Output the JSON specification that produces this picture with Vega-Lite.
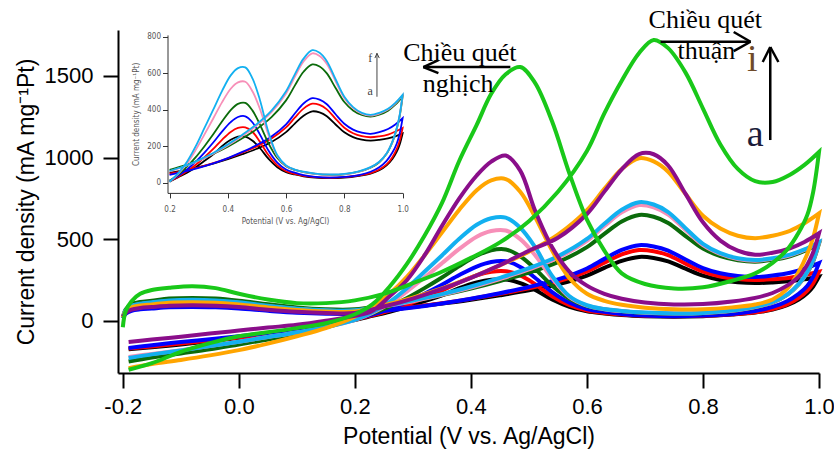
{
"$schema": "https://vega.github.io/schema/vega-lite/v6.json",
"width": 701, "height": 343,
"autosize": {"type": "none"},
"padding": {"left": 118, "top": 30, "right": 15, "bottom": 88},
"background": "white",
"config": {"view": {"stroke": null}, "axis": {"grid": false}},
"datasets": {
"cv": [
{"k":1,"V":-0.2,"a":20,"b":20,"c":15,"d":20,"e":20,"f":20,"g":20,"h":25,"i":-40},
{"k":2,"V":-0.195,"a":55,"b":50,"c":43,"d":70,"e":62,"f":64,"g":57,"h":48,"i":60},
{"k":3,"V":-0.185,"a":79,"b":72,"c":61,"d":101,"e":89,"f":92,"g":82,"h":68,"i":120},
{"k":4,"V":-0.17,"a":90,"b":82,"c":70,"d":115,"e":102,"f":105,"g":93,"h":78,"i":165},
{"k":5,"V":-0.15,"a":97,"b":88,"c":75,"d":123,"e":109,"f":113,"g":100,"h":84,"i":188},
{"k":6,"V":-0.12,"a":107,"b":97,"c":82,"d":136,"e":120,"f":124,"g":111,"h":92,"i":202},
{"k":7,"V":-0.08,"a":110,"b":100,"c":85,"d":140,"e":124,"f":128,"g":114,"h":95,"i":212},
{"k":8,"V":-0.04,"a":107,"b":97,"c":82,"d":136,"e":120,"f":124,"g":111,"h":92,"i":200},
{"k":9,"V":0,"a":97,"b":88,"c":75,"d":123,"e":109,"f":113,"g":100,"h":84,"i":165},
{"k":10,"V":0.05,"a":79,"b":72,"c":61,"d":101,"e":89,"f":92,"g":82,"h":68,"i":130},
{"k":11,"V":0.1,"a":64,"b":58,"c":49,"d":81,"e":72,"f":74,"g":66,"h":55,"i":108},
{"k":12,"V":0.15,"a":55,"b":50,"c":43,"d":70,"e":62,"f":64,"g":57,"h":48,"i":108},
{"k":13,"V":0.2,"a":55,"b":50,"c":43,"d":70,"e":62,"f":64,"g":57,"h":48,"i":125},
{"k":14,"V":0.25,"a":68,"b":65,"c":60,"d":93,"e":88,"f":90,"g":95,"h":87,"i":165},
{"k":15,"V":0.3,"a":85,"b":84,"c":81,"d":122,"e":120,"f":124,"g":142,"h":136,"i":230},
{"k":16,"V":0.35,"a":105,"b":107,"c":106,"d":157,"e":159,"f":163,"g":198,"h":195,"i":300},
{"k":17,"V":0.4,"a":129,"b":134,"c":135,"d":197,"e":204,"f":210,"g":264,"h":263,"i":385},
{"k":18,"V":0.45,"a":156,"b":165,"c":169,"d":243,"e":256,"f":263,"g":339,"h":341,"i":480},
{"k":19,"V":0.5,"a":186,"b":199,"c":207,"d":295,"e":314,"f":322,"g":423,"h":429,"i":610},
{"k":20,"V":0.55,"a":223,"b":242,"c":253,"d":359,"e":386,"f":395,"g":527,"h":508,"i":790},
{"k":21,"V":0.6,"a":277,"b":303,"c":320,"d":451,"e":489,"f":501,"g":677,"h":654,"i":1040},
{"k":22,"V":0.63,"a":324,"b":356,"c":379,"d":532,"e":580,"f":594,"g":808,"h":791,"i":1270},
{"k":23,"V":0.66,"a":367,"b":406,"c":434,"d":608,"e":664,"f":680,"g":930,"h":928,"i":1470},
{"k":24,"V":0.69,"a":391,"b":433,"c":463,"d":648,"e":709,"f":726,"g":996,"h":1021,"i":1640},
{"k":25,"V":0.715,"a":385,"b":426,"c":455,"d":637,"e":695,"f":712,"g":976,"h":1020,"i":1720},
{"k":26,"V":0.74,"a":364,"b":402,"c":430,"d":599,"e":651,"f":666,"g":913,"h":951,"i":1670},
{"k":27,"V":0.77,"a":319,"b":350,"c":375,"d":519,"e":556,"f":567,"g":776,"h":777,"i":1520},
{"k":28,"V":0.8,"a":276,"b":301,"c":323,"d":442,"e":463,"f":471,"g":643,"h":603,"i":1300},
{"k":29,"V":0.83,"a":250,"b":271,"c":291,"d":396,"e":409,"f":414,"g":565,"h":491,"i":1080},
{"k":30,"V":0.86,"a":236,"b":255,"c":274,"d":371,"e":378,"f":383,"g":521,"h":429,"i":930},
{"k":31,"V":0.89,"a":231,"b":249,"c":268,"d":362,"e":368,"f":372,"g":506,"h":404,"i":855},
{"k":32,"V":0.92,"a":235,"b":254,"c":277,"d":373,"e":379,"f":383,"g":521,"h":417,"i":850},
{"k":33,"V":0.95,"a":243,"b":264,"c":294,"d":395,"e":401,"f":405,"g":551,"h":444,"i":895},
{"k":34,"V":0.975,"a":254,"b":280,"c":319,"d":428,"e":434,"f":437,"g":597,"h":483,"i":955},
{"k":35,"V":1.0,"a":270,"b":300,"c":353,"d":472,"e":478,"f":481,"g":657,"h":536,"i":1034},
{"k":36,"V":1.0,"a":270,"b":300,"c":353,"d":472,"e":478,"f":481,"g":657,"h":536,"i":1034},
{"k":37,"V":0.99,"a":210,"b":230,"c":270,"d":365,"e":370,"f":372,"g":510,"h":420,"i":790},
{"k":38,"V":0.98,"a":170,"b":185,"c":215,"d":295,"e":298,"f":300,"g":410,"h":345,"i":650},
{"k":39,"V":0.965,"a":130,"b":140,"c":165,"d":222,"e":224,"f":225,"g":300,"h":270,"i":540},
{"k":40,"V":0.945,"a":95,"b":100,"c":120,"d":158,"e":160,"f":160,"g":195,"h":215,"i":435},
{"k":41,"V":0.92,"a":68,"b":72,"c":85,"d":112,"e":114,"f":115,"g":130,"h":170,"i":355},
{"k":42,"V":0.89,"a":50,"b":52,"c":60,"d":82,"e":84,"f":85,"g":100,"h":140,"i":290},
{"k":43,"V":0.85,"a":38,"b":40,"c":42,"d":60,"e":61,"f":62,"g":82,"h":118,"i":245},
{"k":44,"V":0.8,"a":28,"b":30,"c":32,"d":46,"e":47,"f":48,"g":70,"h":102,"i":205},
{"k":45,"V":0.75,"a":25,"b":27,"c":28,"d":43,"e":44,"f":45,"g":70,"h":100,"i":198},
{"k":46,"V":0.7,"a":28,"b":30,"c":32,"d":48,"e":49,"f":50,"g":80,"h":112,"i":225},
{"k":47,"V":0.66,"a":35,"b":38,"c":42,"d":58,"e":59,"f":60,"g":98,"h":135,"i":290},
{"k":48,"V":0.63,"a":45,"b":48,"c":55,"d":70,"e":71,"f":72,"g":122,"h":165,"i":430},
{"k":49,"V":0.6,"a":58,"b":63,"c":72,"d":90,"e":93,"f":95,"g":165,"h":215,"i":620},
{"k":50,"V":0.57,"a":85,"b":95,"c":110,"d":135,"e":145,"f":150,"g":260,"h":300,"i":900},
{"k":51,"V":0.54,"a":130,"b":150,"c":175,"d":215,"e":260,"f":275,"g":430,"h":450,"i":1220},
{"k":52,"V":0.51,"a":190,"b":225,"c":265,"d":320,"e":405,"f":455,"g":640,"h":680,"i":1460},
{"k":53,"V":0.485,"a":230,"b":278,"c":330,"d":395,"e":500,"f":570,"g":790,"h":920,"i":1554},
{"k":54,"V":0.46,"a":253,"b":303,"c":364,"d":437,"e":553,"f":632,"g":868,"h":1012,"i":1510},
{"k":55,"V":0.435,"a":252,"b":300,"c":360,"d":432,"e":550,"f":628,"g":860,"h":975,"i":1390},
{"k":56,"V":0.41,"a":235,"b":278,"c":332,"d":398,"e":515,"f":588,"g":800,"h":890,"i":1200},
{"k":57,"V":0.38,"a":200,"b":235,"c":280,"d":335,"e":440,"f":502,"g":680,"h":750,"i":980},
{"k":58,"V":0.35,"a":155,"b":185,"c":220,"d":265,"e":352,"f":400,"g":540,"h":580,"i":720},
{"k":59,"V":0.32,"a":120,"b":140,"c":165,"d":200,"e":265,"f":300,"g":400,"h":400,"i":520},
{"k":60,"V":0.29,"a":85,"b":98,"c":115,"d":140,"e":180,"f":200,"g":270,"h":250,"i":350},
{"k":61,"V":0.26,"a":55,"b":62,"c":72,"d":88,"e":105,"f":115,"g":165,"h":150,"i":210},
{"k":62,"V":0.23,"a":30,"b":33,"c":38,"d":45,"e":48,"f":52,"g":85,"h":60,"i":100},
{"k":63,"V":0.2,"a":5,"b":8,"c":10,"d":10,"e":5,"f":5,"g":25,"h":30,"i":40},
{"k":64,"V":0.15,"a":-30,"b":-28,"c":-25,"d":-40,"e":-40,"f":-40,"g":-45,"h":0,"i":-15},
{"k":65,"V":0.1,"a":-60,"b":-58,"c":-52,"d":-80,"e":-72,"f":-72,"g":-95,"h":-25,"i":-45},
{"k":66,"V":0.05,"a":-85,"b":-83,"c":-75,"d":-115,"e":-100,"f":-100,"g":-140,"h":-42,"i":-70},
{"k":67,"V":0,"a":-105,"b":-103,"c":-95,"d":-145,"e":-128,"f":-128,"g":-180,"h":-60,"i":-95},
{"k":68,"V":-0.05,"a":-125,"b":-122,"c":-113,"d":-175,"e":-155,"f":-155,"g":-212,"h":-78,"i":-137},
{"k":69,"V":-0.1,"a":-145,"b":-140,"c":-130,"d":-200,"e":-180,"f":-182,"g":-240,"h":-98,"i":-190},
{"k":70,"V":-0.15,"a":-162,"b":-157,"c":-150,"d":-225,"e":-203,"f":-206,"g":-265,"h":-115,"i":-260},
{"k":71,"V":-0.19,"a":-175,"b":-170,"c":-167,"d":-250,"e":-222,"f":-228,"g":-290,"h":-130,"i":-300}
],
"seg": [
{"V":0.468,"J":1554,"V2":0.318,"J2":1554},
{"V":0.318,"J":1554,"V2":0.344,"J2":1597},
{"V":0.318,"J":1554,"V2":0.344,"J2":1517},
{"V":0.727,"J":1709,"V2":0.882,"J2":1709},
{"V":0.882,"J":1709,"V2":0.853,"J2":1769},
{"V":0.882,"J":1709,"V2":0.853,"J2":1652},
{"V":0.916,"J":1107,"V2":0.916,"J2":1677},
{"V":0.916,"J":1677,"V2":0.903,"J2":1585},
{"V":0.916,"J":1677,"V2":0.930,"J2":1585}
],
"lab": [
{"t":"Chiều quét","V":0.381,"J":1592},
{"t":"nghịch","V":0.378,"J":1400},
{"t":"Chiều quét","V":0.804,"J":1791},
{"t":"thuận","V":0.806,"J":1601}
],
"big": [
{"t":"i","V":0.885,"J":1532},
{"t":"a","V":0.890,"J":1070}
],
"iseg": [
{"V":0.912,"J":471,"V2":0.912,"J2":709},
{"V":0.912,"J":709,"V2":0.905,"J2":683},
{"V":0.912,"J":709,"V2":0.920,"J2":683}
],
"ilab": [
{"t":"f","V":0.889,"J":663},
{"t":"a","V":0.889,"J":481}
]
},
"layer": [
{
"layer": [
{
"data": {"name": "cv"},
"transform": [{"fold": ["a","b","c","d","e","f","g","h","i"], "as": ["curve","J"]}],
"mark": {"type": "line", "strokeWidth": 4, "interpolate": "catmull-rom", "clip": false},
"encoding": {
"x": {"field": "V", "type": "quantitative", "scale": {"domain": [-0.2083, 1.0], "nice": false, "zero": false},
"axis": {"orient": "bottom", "title": "Potential (V vs. Ag/AgCl)", "values": [-0.2,0,0.2,0.4,0.6,0.8,1.0], "format": ".1f",
"labelExpr": "replace(datum.label, '\u2212', '-')",
"tickSize": 15, "tickWidth": 2, "domainWidth": 2, "domainColor": "black", "tickColor": "black",
"labelFontSize": 22, "labelFont": "Liberation Sans", "labelColor": "black", "labelPadding": 8, "labelFlush": false, "labelOverlap": false,
"titleFontSize": 23, "titleFont": "Liberation Sans", "titleFontWeight": "normal", "titleColor": "black", "titlePadding": 8}},
"y": {"field": "J", "type": "quantitative", "scale": {"domain": [-320, 1781], "nice": false, "zero": false},
"axis": {"orient": "left", "title": "Current density (mA mg⁻¹Pt)", "values": [0,500,1000,1500], "format": "d",
"tickSize": 15, "tickWidth": 2, "domainWidth": 2, "domainColor": "black", "tickColor": "black",
"labelFontSize": 22, "labelFont": "Liberation Sans", "labelColor": "black", "labelPadding": 10, "labelFlush": false, "labelOverlap": false,
"titleFontSize": 23, "titleFont": "Liberation Sans", "titleFontWeight": "normal", "titleColor": "black", "titlePadding": 6}},
"color": {"field": "curve", "type": "nominal", "legend": null,
"scale": {"domain": ["a","b","c","d","e","f","g","h","i"], "range": ["#000000","#ff0000","#0000ff","#0b6b0b","#f78fb8","#12b0f0","#ffa500","#8a0e8a","#19c819"]}},
"order": {"field": "k", "type": "quantitative"}
}
},
{
"data": {"name": "seg"},
"mark": {"type": "rule", "strokeWidth": 2.5, "color": "black", "clip": false},
"encoding": {
"x": {"field": "V", "type": "quantitative", "scale": {"domain": [-0.2083, 1.0], "nice": false, "zero": false}},
"y": {"field": "J", "type": "quantitative", "scale": {"domain": [-320, 1781], "nice": false, "zero": false}},
"x2": {"field": "V2"},
"y2": {"field": "J2"}
}
},
{
"data": {"name": "lab"},
"mark": {"type": "text", "font": "Liberation Serif", "fontSize": 26, "align": "center", "baseline": "alphabetic", "color": "black", "clip": false},
"encoding": {
"x": {"field": "V", "type": "quantitative", "scale": {"domain": [-0.2083, 1.0], "nice": false, "zero": false}},
"y": {"field": "J", "type": "quantitative", "scale": {"domain": [-320, 1781], "nice": false, "zero": false}},
"text": {"field": "t"}
}
},
{
"data": {"name": "big"},
"mark": {"type": "text", "font": "Liberation Serif", "fontSize": 38, "align": "center", "baseline": "alphabetic", "clip": false},
"encoding": {
"x": {"field": "V", "type": "quantitative", "scale": {"domain": [-0.2083, 1.0], "nice": false, "zero": false}},
"y": {"field": "J", "type": "quantitative", "scale": {"domain": [-320, 1781], "nice": false, "zero": false}},
"text": {"field": "t"},
"color": {"field": "t", "type": "nominal", "legend": null, "scale": {"domain": ["i","a"], "range": ["#6e4a2a","#1c1c3a"]}}
}
}
],
"resolve": {"scale": {"color": "independent"}}
},
{
"layer": [
{
"data": {"name": "cv"},
"transform": [{"fold": ["a","b","c","d","e","f"], "as": ["curve","J"]}, {"filter": {"field": "V", "gte": 0.2}}],
"mark": {"type": "line", "strokeWidth": 1.8, "interpolate": "catmull-rom", "clip": false},
"encoding": {
"x": {"field": "V", "type": "quantitative", "scale": {"domain": [0.193, 1.0], "range": [49.5, 284.6], "nice": false, "zero": false},
"axis": {"orient": "bottom", "offset": -180.1, "title": "Potential (V vs. Ag/AgCl)", "values": [0.2,0.4,0.6,0.8,1.0], "format": ".1f",
"tickSize": 5, "tickWidth": 1, "domainWidth": 1, "domainColor": "#333333", "tickColor": "#333333",
"labelFontSize": 8, "labelFont": "Liberation Sans Narrow, DejaVu Sans Condensed, Liberation Sans", "labelColor": "#555555", "labelPadding": 8, "labelFlush": false, "labelOverlap": false,
"titleFontSize": 8, "titleFont": "Liberation Sans Narrow, DejaVu Sans Condensed, Liberation Sans", "titleFontWeight": "normal", "titleColor": "#555555", "titlePadding": 4}},
"y": {"field": "J", "type": "quantitative", "scale": {"domain": [-56, 810], "range": [162.9, 4.9], "nice": false, "zero": false},
"axis": {"orient": "left", "offset": -49.5, "title": "Current density (mA mg⁻¹Pt)", "values": [0,200,400,600,800], "format": "d",
"tickSize": 5, "tickWidth": 1, "domainWidth": 1, "domainColor": "#333333", "tickColor": "#333333",
"labelFontSize": 8, "labelFont": "Liberation Sans Narrow, DejaVu Sans Condensed, Liberation Sans", "labelColor": "#555555", "labelPadding": 2, "labelFlush": false, "labelOverlap": false,
"titleFontSize": 8, "titleFont": "Liberation Sans Narrow, DejaVu Sans Condensed, Liberation Sans", "titleFontWeight": "normal", "titleColor": "#555555", "titlePadding": 6}},
"color": {"field": "curve", "type": "nominal", "legend": null,
"scale": {"domain": ["a","b","c","d","e","f"], "range": ["#000000","#ff0000","#0000ff","#0b6b0b","#f78fb8","#12b0f0"]}},
"order": {"field": "k", "type": "quantitative"}
}
},
{
"data": {"name": "iseg"},
"mark": {"type": "rule", "strokeWidth": 1, "color": "#444444", "clip": false},
"encoding": {
"x": {"field": "V", "type": "quantitative", "scale": {"domain": [0.193, 1.0], "range": [49.5, 284.6], "nice": false, "zero": false}},
"y": {"field": "J", "type": "quantitative", "scale": {"domain": [-56, 810], "range": [162.9, 4.9], "nice": false, "zero": false}},
"x2": {"field": "V2"},
"y2": {"field": "J2"}
}
},
{
"data": {"name": "ilab"},
"mark": {"type": "text", "font": "Liberation Serif", "fontSize": 12, "align": "center", "baseline": "alphabetic", "color": "#444444", "clip": false},
"encoding": {
"x": {"field": "V", "type": "quantitative", "scale": {"domain": [0.193, 1.0], "range": [49.5, 284.6], "nice": false, "zero": false}},
"y": {"field": "J", "type": "quantitative", "scale": {"domain": [-56, 810], "range": [162.9, 4.9], "nice": false, "zero": false}},
"text": {"field": "t"}
}
}
]
}
],
"resolve": {"scale": {"x": "independent", "y": "independent", "color": "independent"}}
}
